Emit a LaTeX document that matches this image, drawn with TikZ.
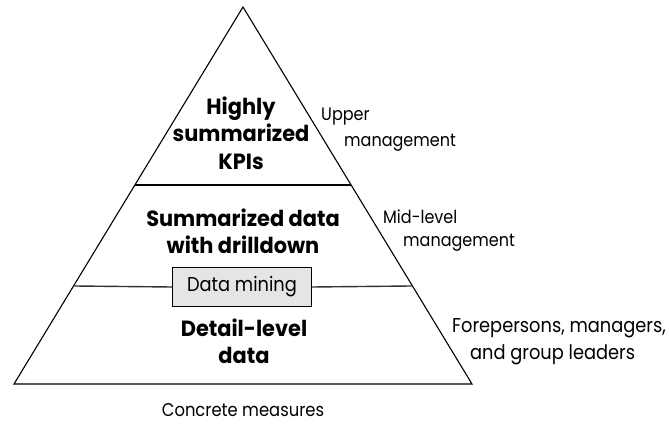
\documentclass[tikz,border=0pt]{standalone}
\usepackage{fontspec}
\setmainfont{Poppins}
\newfontfamily\regfont[FakeStretch=0.89]{Poppins}
\newfontfamily\heavyfont[FakeStretch=0.95]{Poppins}
\usetikzlibrary{calc}
\begin{document}
\begin{tikzpicture}[x=1pt,y=-1pt,
  edge/.style={draw=black,line width=1.1pt},
  lvl/.style={font=\heavyfont\fontsize{22}{27.3}\selectfont\bfseries,align=center,inner sep=0pt},
  aud/.style={font=\regfont\fontsize{18}{26}\selectfont,align=left,anchor=west,inner sep=0pt},
  audbig/.style={font=\regfont\fontsize{20}{26}\selectfont,align=left,anchor=west,inner sep=0pt},
  minebox/.style={draw=black,fill=black!10,line width=1.1pt,minimum width=139pt,minimum height=39pt,inner sep=0pt,font=\regfont\fontsize{20}{22}\selectfont}]
\useasboundingbox (0,0) rectangle (669,423);
\coordinate (A) at (243,7);
\coordinate (BL) at (14,384);
\coordinate (BR) at (472,384);
\coordinate (U1) at ($(A)!0.4721!(BL)$);
\coordinate (U2) at ($(A)!0.4721!(BR)$);
\coordinate (L1) at ($(A)!0.740!(BL)$);
\coordinate (L2) at ($(A)!0.740!(BR)$);
\draw[edge,line join=miter] (A) -- (BL) -- (BR) -- cycle;
\draw[edge] (U1) -- (U2);
\node[minebox] (dm) at (242,287) {Data mining};
\draw[edge,draw=black!80,line width=1.4pt] (L1) -- (dm.west);
\draw[edge,draw=black!80,line width=1.4pt] (dm.east) -- (L2);
\node[lvl] (top) at (241,133) {Highly\\summarized\\KPIs};
\node[lvl] (mid) at (243,231) {Summarized data\\with drilldown};
\node[lvl] (bot) at (244,341) {Detail-level\\data};
\node[aud] (up) at (321,117) {Upper};
\node[aud] (upm) at (344,143) {management};
\node[aud] (md) at (383,217) {Mid-level};
\node[aud] (mdm) at (403,243) {management};
\node[audbig] (fp) at (452,328) {Forepersons, managers,};
\node[audbig] (fpg) at (470,355) {and group leaders};
\node[font=\regfont\fontsize{18.4}{20}\selectfont,inner sep=0pt] (cm) at (243,410) {Concrete measures};
\end{tikzpicture}
\end{document}
